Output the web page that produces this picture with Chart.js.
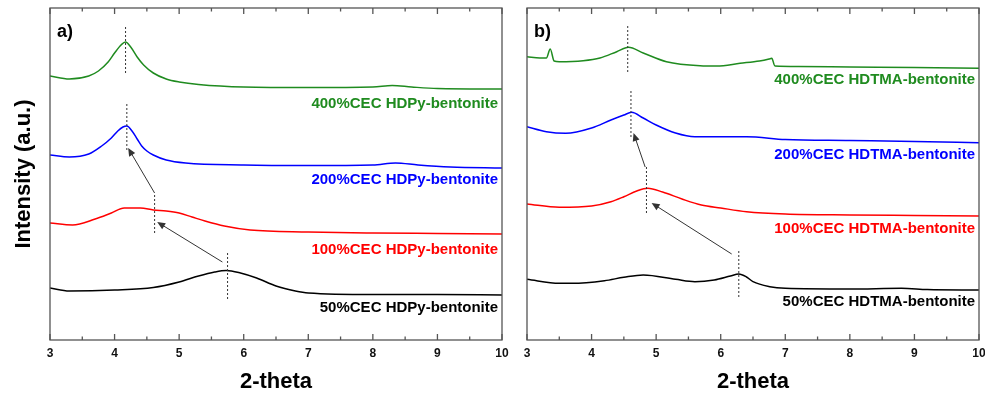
<!DOCTYPE html>
<html>
<head>
<meta charset="utf-8">
<script src="https://cdn.jsdelivr.net/npm/chart.js@4.4.1/dist/chart.umd.min.js"></script>
<style>
    body { margin: 0; background: #fff; }
    #wrap { position: relative; width: 985px; height: 395px; }
    .pane { position: absolute; top: 0; }
</style>
</head>
<body>
<div id="wrap">
    <canvas id="chartA" class="pane" style="left:0" width="510" height="395"></canvas>
    <canvas id="chartB" class="pane" style="left:510px" width="475" height="395"></canvas>
</div>
<script>
const xTicks = [3, 4, 5, 6, 7, 8, 9, 10]
const namesA = ['400%CEC HDPy-bentonite', '200%CEC HDPy-bentonite', '100%CEC HDPy-bentonite', '50%CEC HDPy-bentonite']
const namesB = ['400%CEC HDTMA-bentonite', '200%CEC HDTMA-bentonite', '100%CEC HDTMA-bentonite', '50%CEC HDTMA-bentonite']
const colors = ['#1f8b1f', '#0000ff', '#ff0000', '#000000']

// a) HDPy-bentonite, stacked intensity (a.u.)
const a400x = [3.0, 3.3, 3.6, 3.75, 3.9, 4.0, 4.1, 4.17, 4.25, 4.35, 4.45, 4.6, 4.8, 5.0, 5.3, 6.0, 7.0, 8.0, 8.3, 8.6, 9.0, 10]
const a400y = [264, 261, 264, 269, 278, 287, 295, 298, 293, 283, 275, 267, 261, 258, 255.5, 253, 252.5, 253, 254.5, 253, 251.5, 251]
const a200x = [3.0, 3.3, 3.6, 3.8, 3.95, 4.05, 4.13, 4.19, 4.27, 4.35, 4.42, 4.5, 4.6, 4.8, 5.1, 6.0, 7.0, 8.0, 8.35, 8.7, 9.2, 10]
const a200y = [185, 183, 186, 194, 202, 209, 213, 214, 209, 201, 194, 189, 185, 180, 177, 175, 174.5, 175, 177, 175, 173, 172]
const a100x = [3.0, 3.35, 3.7, 3.95, 4.15, 4.4, 4.6, 4.8, 5.0, 5.2, 5.4, 5.7, 6.1, 7.0, 8.0, 9.0, 10]
const a100y = [117, 115, 121, 127, 132, 132, 130, 129, 127, 123, 119, 114, 110, 108, 107, 106.5, 106]
const a50x = [3.0, 3.3, 4.0, 4.6, 5.0, 5.3, 5.55, 5.73, 5.95, 6.2, 6.5, 6.8, 7.0, 8.0, 9.0, 10]
const a50y = [52, 49, 50, 52.5, 58, 64, 68, 69.5, 67, 62, 54, 49, 47, 45.5, 45.5, 45]

// b) HDTMA-bentonite
const b400x = [3.0, 3.2, 3.3, 3.36, 3.42, 3.5, 3.87, 4.13, 4.39, 4.57, 4.8, 5.16, 5.68, 5.94, 6.3, 6.6, 6.75, 6.79, 6.84, 7.2, 8.0, 9.0, 10]
const b400y = [283.3, 282, 282, 291, 279, 278.3, 279.3, 282, 288.3, 292.7, 287, 278.3, 274.3, 274, 276.7, 279, 281, 281.7, 274, 273.5, 273, 272.5, 271.7]
const b200x = [3.0, 3.3, 3.6, 4.0, 4.3, 4.5, 4.62, 4.8, 5.0, 5.3, 5.6, 6.4, 7.0, 8.0, 9.0, 10]
const b200y = [213.3, 208.3, 206.7, 212, 220, 225, 227.7, 222, 215, 207, 203.3, 203.3, 200.5, 199.5, 198.5, 197.3]
const b100x = [3.0, 3.5, 4.0, 4.3, 4.5, 4.7, 4.87, 5.1, 5.4, 5.7, 6.0, 6.4, 7.0, 8.0, 9.0, 10]
const b100y = [136, 132.7, 134, 138.3, 143.3, 149, 151.7, 148, 141, 135, 132, 128.3, 126, 125, 124.5, 124]
const b50x = [3.0, 3.5, 3.7, 4.2, 4.5, 4.8, 5.3, 5.6, 5.9, 6.15, 6.28, 6.4, 6.5, 6.76, 7.0, 8.0, 8.8, 9.2, 10]
const b50y = [60.7, 56.7, 56.7, 59.3, 62.7, 65, 60.7, 58.3, 60, 64, 66, 63, 58.3, 53.3, 51.7, 51, 51.7, 50.5, 50]

// d-spacing peak markers: 2-theta, and intensity span of the dashed line
const peaksA = [4.17, 4.19, 4.62, 5.75]
const peakSpanA = [[267, 314], [190, 237], [107, 147], [41, 87]]
const arrowsA = [[5.67, 78, 4.66, 118], [4.62, 147, 4.21, 192]]
const peaksB = [4.56, 4.61, 4.85, 6.28]
const peakSpanB = [[268, 315], [203, 250], [127, 175], [43, 91]]
const arrowsB = [[4.83, 173, 4.65, 207], [6.17, 86, 4.93, 137]]

// where the series names sit (right edge in 2-theta, intensity)
const labelYA = [236, 160, 90, 32]
const labelYB = [260, 185, 110.7, 38.3]

const FONT = '"Liberation Sans", Arial, sans-serif'

const pts = (xs, ys) => xs.map((v, i) => ({ x: v, y: ys[i] }))

const decor = {
    id: 'decor',
    afterDraw(chart, args, opts) {
        const { ctx, chartArea: { left, right, top, bottom }, scales: { x, y } } = chart
        ctx.save()
        // frame + inward ticks on top and bottom
        ctx.strokeStyle = '#555'
        ctx.lineWidth = 1.3
        ctx.strokeRect(left, top, right - left, bottom - top)
        ctx.beginPath()
        for (let v = 3; v <= 10; v += 0.5) {
            const px = x.getPixelForValue(v)
            const len = Number.isInteger(v) ? 6 : 3.5
            ctx.moveTo(px, bottom); ctx.lineTo(px, bottom - len)
            ctx.moveTo(px, top); ctx.lineTo(px, top + len)
        }
        ctx.stroke()

        // dashed peak lines
        ctx.strokeStyle = '#333'
        ctx.lineWidth = 1
        ctx.setLineDash([2, 2])
        opts.peaks.forEach((p, i) => {
            const px = x.getPixelForValue(p)
            ctx.beginPath()
            ctx.moveTo(px, y.getPixelForValue(opts.spans[i][0]))
            ctx.lineTo(px, y.getPixelForValue(opts.spans[i][1]))
            ctx.stroke()
        })
        ctx.setLineDash([])

        // arrows
        ctx.fillStyle = '#333'
        opts.arrows.forEach(a => {
            const x0 = x.getPixelForValue(a[0]), y0 = y.getPixelForValue(a[1])
            const x1 = x.getPixelForValue(a[2]), y1 = y.getPixelForValue(a[3])
            const ang = Math.atan2(y1 - y0, x1 - x0)
            ctx.beginPath()
            ctx.moveTo(x0, y0); ctx.lineTo(x1 - 6 * Math.cos(ang), y1 - 6 * Math.sin(ang))
            ctx.stroke()
            ctx.beginPath()
            ctx.moveTo(x1, y1)
            ctx.lineTo(x1 - 8 * Math.cos(ang) + 3.5 * Math.sin(ang), y1 - 8 * Math.sin(ang) - 3.5 * Math.cos(ang))
            ctx.lineTo(x1 - 8 * Math.cos(ang) - 3.5 * Math.sin(ang), y1 - 8 * Math.sin(ang) + 3.5 * Math.cos(ang))
            ctx.closePath()
            ctx.fill()
        })

        // series names
        ctx.font = 'bold 15px ' + FONT
        ctx.textAlign = 'right'
        ctx.textBaseline = 'middle'
        opts.names.forEach((n, i) => {
            ctx.fillStyle = colors[i]
            ctx.fillText(n, x.getPixelForValue(9.94), y.getPixelForValue(opts.labelY[i]))
        })

        // panel letter
        ctx.fillStyle = '#000'
        ctx.font = 'bold 18px ' + FONT
        ctx.textAlign = 'left'
        ctx.textBaseline = 'alphabetic'
        ctx.fillText(opts.letter, left + 7, top + 29)
        ctx.restore()
    }
}

const makeChart = (id, series, names, yWidth, rightPad, yTitle, decorOpts) => {
    const ctx = document.getElementById(id).getContext('2d')
    return new Chart(ctx, {
        type: 'line',
        data: {
            datasets: series.map((s, i) => ({
                label: names[i],
                data: pts(s[0], s[1]),
                borderColor: colors[i],
                borderWidth: 1.5,
                pointRadius: 0,
                fill: false,
                cubicInterpolationMode: 'monotone'
            }))
        },
        options: {
            responsive: false,
            animation: false,
            layout: { padding: { top: 8, right: rightPad, bottom: 0, left: 0 } },
            plugins: {
                legend: { display: false },
                tooltip: { enabled: false },
                decor: decorOpts
            },
            scales: {
                x: {
                    type: 'linear',
                    min: xTicks[0],
                    max: xTicks[xTicks.length - 1],
                    grid: { display: false, drawTicks: false },
                    border: { display: false },
                    ticks: {
                        stepSize: 1,
                        padding: 6,
                        color: '#111',
                        font: { family: FONT, size: 12, weight: 'bold' }
                    },
                    title: {
                        display: true,
                        text: '2-theta',
                        color: '#000',
                        padding: { top: 0, bottom: 0 },
                        font: { family: FONT, size: 22, weight: 'bold' }
                    },
                    afterFit: s => {
                        s.height = 55
                        s.paddingLeft = 0
                        s.paddingRight = 0
                    }
                },
                y: {
                    min: 0,
                    max: 332,
                    grid: { display: false, drawTicks: false },
                    border: { display: false },
                    ticks: { display: false },
                    title: {
                        display: !!yTitle,
                        text: yTitle,
                        color: '#000',
                        padding: { top: 10.5, bottom: 0 },
                        font: { family: FONT, size: 22, weight: 'bold' }
                    },
                    afterFit: s => {
                        s.width = yWidth
                        s.paddingTop = 0
                        s.paddingBottom = 0
                    }
                }
            }
        },
        plugins: [decor]
    })
}

makeChart('chartA',
    [[a400x, a400y], [a200x, a200y], [a100x, a100y], [a50x, a50y]],
    namesA, 50, 8, 'Intensity (a.u.)',
    { peaks: peaksA, spans: peakSpanA, arrows: arrowsA, names: namesA, labelY: labelYA, letter: 'a)' })

makeChart('chartB',
    [[b400x, b400y], [b200x, b200y], [b100x, b100y], [b50x, b50y]],
    namesB, 17, 6, '',
    { peaks: peaksB, spans: peakSpanB, arrows: arrowsB, names: namesB, labelY: labelYB, letter: 'b)' })
</script>
</body>
</html>
